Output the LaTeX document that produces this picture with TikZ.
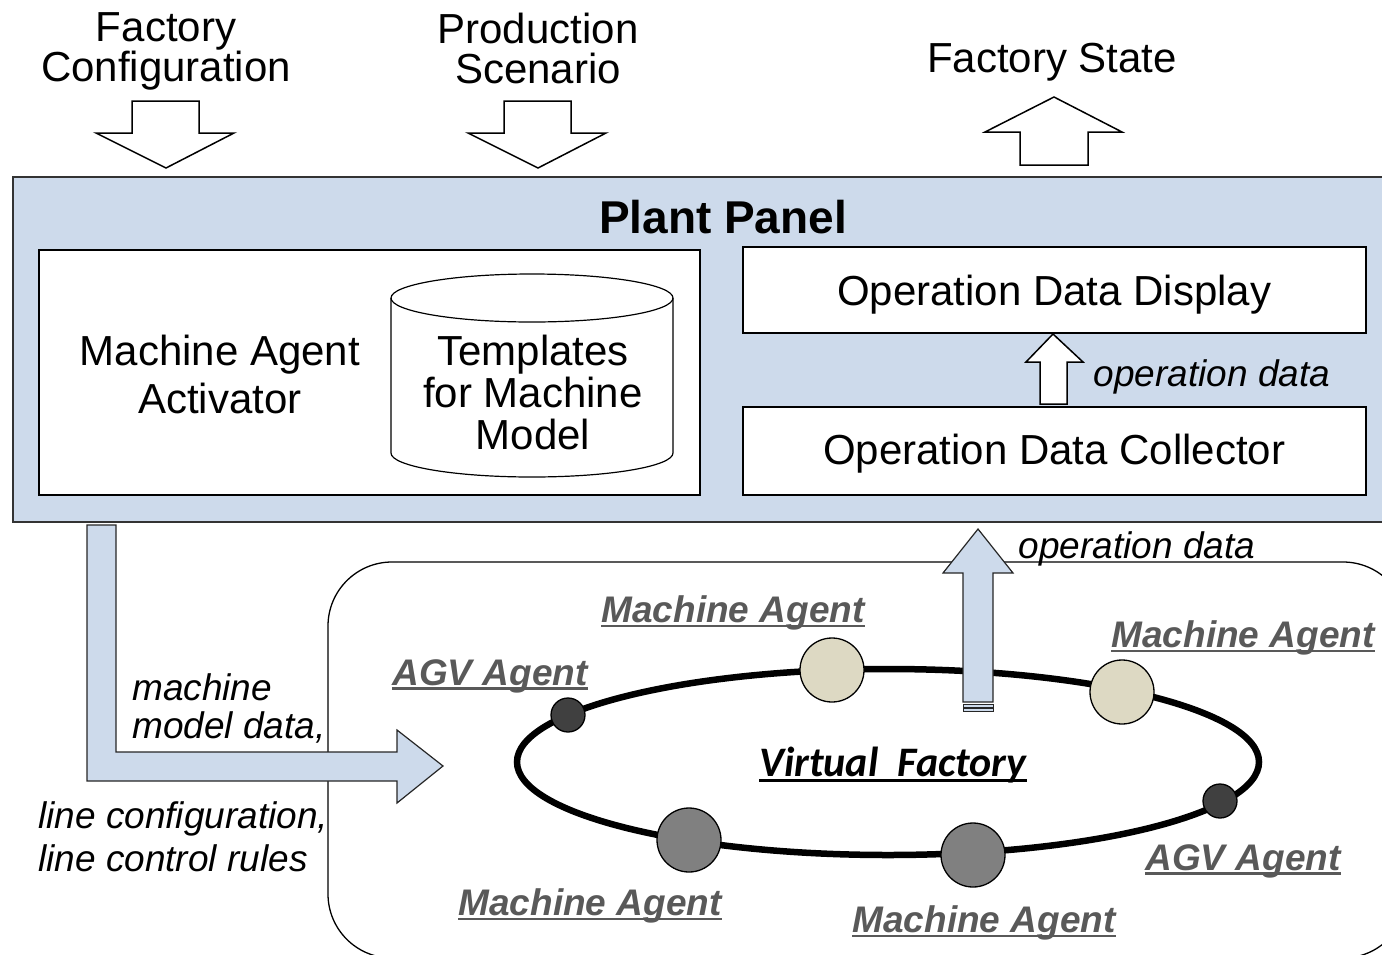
\documentclass[tikz,border=0pt]{standalone}
\usepackage{fontspec}
\setmainfont{Liberation Sans}
\newfontfamily\calib{Carlito}
\definecolor{panelblue}{RGB}{205,218,235}
\definecolor{agentgray}{RGB}{89,89,89}
\definecolor{beige}{RGB}{221,217,195}
\definecolor{darkdot}{RGB}{64,64,64}
\definecolor{middot}{RGB}{128,128,128}
\newcommand\myul[1]{\setbox0\hbox{#1}\rlap{\rule[-0.13em]{\wd0}{0.075em}}\box0}
\tikzset{
  big/.style={font=\fontsize{42}{40}\selectfont, align=center, inner sep=0pt},
  boxed/.style={draw=black, line width=1.5pt, fill=white},
  hollowarrow/.style={draw=black, line width=1.5pt, fill=white, line join=miter},
  bluearrow/.style={draw=black!85, line width=1.2pt, fill=panelblue, line join=miter},
  itl/.style={font=\fontsize{37}{38}\selectfont\itshape, inner sep=0pt},
  agentlbl/.style={font=\fontsize{37}{38}\selectfont\bfseries\itshape, text=agentgray, inner sep=0pt},
  bigdot/.style={circle, draw=black, line width=1.3pt, minimum size=64pt, inner sep=0pt},
  smalldot/.style={circle, draw=black, line width=1.3pt, minimum size=34pt, inner sep=0pt, fill=darkdot},
}
\begin{document}
\begin{tikzpicture}[x=1pt, y=-1pt]
\useasboundingbox (0,0) rectangle (1382,954);
\begin{scope}
\clip (0,0) rectangle (1382,954);
% top labels
\node[big] (fc) at (166,51) {Factory\\Configuration};
\node[big] (ps) at (538,48) {Production\\Scenario};
\node[big] (fs) at (1052,62) {Factory State};
% top hollow arrows
\draw[hollowarrow] (132,101) -- (199,101) -- (199,133) -- (234,133) -- (166,168) -- (96,133) -- (132,133) -- cycle;
\draw[hollowarrow] (504,101) -- (571,101) -- (571,133) -- (606,133) -- (538,168) -- (468,133) -- (504,133) -- cycle;
\draw[hollowarrow] (1020,165) -- (1088,165) -- (1088,132) -- (1122,132) -- (1054,97) -- (985,132) -- (1020,132) -- cycle;
% plant panel
\node[draw=black!80, line width=1.5pt, fill=panelblue, minimum width=1400pt, minimum height=345pt, anchor=north west, inner sep=0pt] (panel) at (12,176) {};
\node[font=\fontsize{46}{46}\selectfont\bfseries, inner sep=0pt] (pptitle) at (723,217) {Plant Panel};
% left inner box
\node[boxed, minimum width=661pt, minimum height=245pt, anchor=north west, inner sep=0pt] (activ) at (38,249) {};
\node[big, align=center] (activtxt) at (220,374) {Machine Agent\\[8pt]Activator};
% cylinder
\fill[white] (391,298) -- (391,453) arc[start angle=180, end angle=0, x radius=141, y radius=24] -- (673,298) arc[start angle=0, end angle=-180, x radius=141, y radius=24] -- cycle;
\draw[line width=1.2pt] (391,298) -- (391,453) arc[start angle=180, end angle=0, x radius=141, y radius=24] -- (673,298);
\draw[line width=1.2pt] (532,298) ellipse[x radius=141, y radius=24];
\node[big, align=center, font=\fontsize{42}{42}\selectfont] (tmpl) at (533,392) {Templates\\for Machine\\Model};
% operation boxes
\node[boxed, minimum width=623pt, minimum height=86pt, anchor=north west, inner sep=0pt] (odd) at (742,246) {};
\node[big] (oddtxt) at ([yshift=-5pt]odd.center) {Operation Data Display};
\node[boxed, minimum width=623pt, minimum height=88pt, anchor=north west, inner sep=0pt] (odc) at (742,406) {};
\node[big] (odctxt) at ([yshift=-3pt]odc.center) {Operation Data Collector};
% small up arrow
\draw[hollowarrow] (1040,404) -- (1067,404) -- (1067,362) -- (1083,362) -- (1053,334) -- (1026,362) -- (1040,362) -- cycle;
\node[itl] (opd1) at (1212,377) {operation data};
% virtual factory rounded box
\draw[line width=1.3pt, rounded corners=64pt] (328,562) rectangle (1407,958);
% L-shaped blue arrow
\draw[bluearrow] (87,525) -- (116,525) -- (116,752) -- (397,752) -- (397,730) -- (443,766) -- (397,803) -- (397,781) -- (87,781) -- cycle;
% ring
\draw[line width=6.5pt] (888,762) ellipse[x radius=371, y radius=93];
% blue up arrow
\draw[bluearrow] (963,702) -- (993,702) -- (993,573) -- (1013,573) -- (978,529) -- (943,573) -- (963,573) -- cycle;
\draw[bluearrow, line width=1pt] (963,704.5) rectangle (993,707);
\draw[bluearrow, line width=1pt] (963,708.5) rectangle (993,711);
\node[itl] (opd2) at (1137,549) {operation data};
% agents
\node[smalldot] (agv1) at (568,715) {};
\node[bigdot, fill=beige] (ma1) at (832,670) {};
\node[bigdot, fill=beige] (ma2) at (1122,692) {};
\node[smalldot] (agv2) at (1220,801) {};
\node[bigdot, fill=middot] (ma3) at (689,840) {};
\node[bigdot, fill=middot] (ma4) at (973,855) {};
% agent labels
\node[agentlbl] (l1) at (733,613) {\myul{Machine Agent}};
\node[agentlbl] (l2) at (1243,638) {\myul{Machine Agent}};
\node[agentlbl] (l3) at (490,676) {\myul{AGV Agent}};
\node[agentlbl] (l4) at (1243,861) {\myul{AGV Agent}};
\node[agentlbl] (l5) at (590,906) {\myul{Machine Agent}};
\node[agentlbl] (l6) at (984,923) {\myul{Machine Agent}};
\node[font=\fontsize{42}{42}\selectfont\calib\bfseries\itshape, inner sep=0pt] (vf) at (893,765) {\myul{Virtual\ \ Factory}};
% left italic labels
\node[itl, anchor=west, align=left] (mmd) at (132,708) {machine\\model data,};
\node[itl, anchor=west, align=left, font=\fontsize{37}{43}\selectfont\itshape] (lcr) at (38,837) {line configuration,\\line control rules};
\end{scope}
\end{tikzpicture}
\end{document}
